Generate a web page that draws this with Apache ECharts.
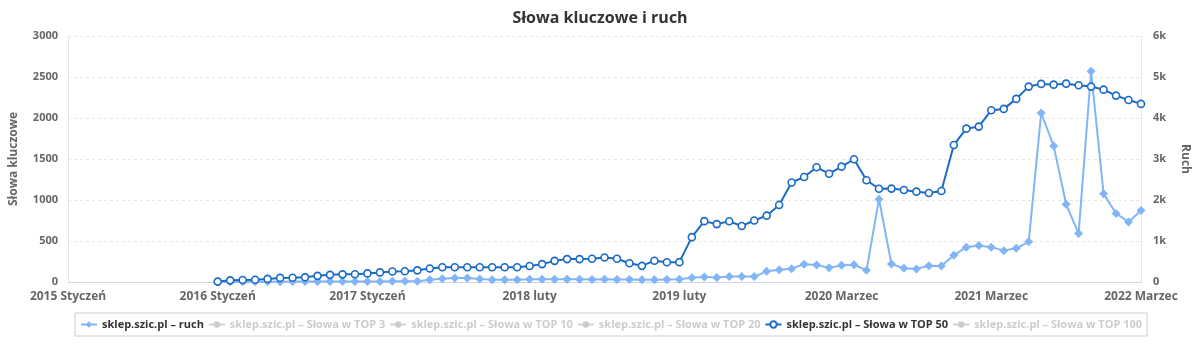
<!DOCTYPE html>
<html>
<head>
<meta charset="utf-8">
<script src="https://cdn.jsdelivr.net/npm/echarts@6/dist/echarts.min.js"></script>
<style>
html,body{margin:0;padding:0;background:#fff;}
#chart{width:1200px;height:352px;}
</style>
</head>
<body>
<div id="chart"></div>
<script>
const categories = [
  "2015 Styczeń","2015 luty","2015 Marzec","2015 Kwiecień","2015 Maj","2015 Czerwiec","2015 Lipiec","2015 Sierpień","2015 Wrzesień","2015 Październik","2015 Listopad","2015 Grudzień",
  "2016 Styczeń","2016 luty","2016 Marzec","2016 Kwiecień","2016 Maj","2016 Czerwiec","2016 Lipiec","2016 Sierpień","2016 Wrzesień","2016 Październik","2016 Listopad","2016 Grudzień",
  "2017 Styczeń","2017 luty","2017 Marzec","2017 Kwiecień","2017 Maj","2017 Czerwiec","2017 Lipiec","2017 Sierpień","2017 Wrzesień","2017 Październik","2017 Listopad","2017 Grudzień",
  "2018 Styczeń","2018 luty","2018 Marzec","2018 Kwiecień","2018 Maj","2018 Czerwiec","2018 Lipiec","2018 Sierpień","2018 Wrzesień","2018 Październik","2018 Listopad","2018 Grudzień",
  "2019 Styczeń","2019 luty","2019 Marzec","2019 Kwiecień","2019 Maj","2019 Czerwiec","2019 Lipiec","2019 Sierpień","2019 Wrzesień","2019 Październik","2019 Listopad","2019 Grudzień",
  "2020 Styczeń","2020 luty","2020 Marzec","2020 Kwiecień","2020 Maj","2020 Czerwiec","2020 Lipiec","2020 Sierpień","2020 Wrzesień","2020 Październik","2020 Listopad","2020 Grudzień",
  "2021 Styczeń","2021 luty","2021 Marzec","2021 Kwiecień","2021 Maj","2021 Czerwiec","2021 Lipiec","2021 Sierpień","2021 Wrzesień","2021 Październik","2021 Listopad","2021 Grudzień",
  "2022 Styczeń","2022 luty","2022 Marzec"
];

const tickLabels = ["2015 Styczeń","2016 Styczeń","2017 Styczeń","2018 luty","2019 luty","2020 Marzec","2021 Marzec","2022 Marzec"];

// Ruch (traffic), right axis — 2015 has no data
const ruch = [
  null,null,null,null,null,null,null,null,null,null,null,null,
  0,5,5,5,8,8,10,10,10,10,12,12,
  15,15,16,16,20,57,81,98,98,73,57,57,
  57,65,70,70,70,70,60,65,60,60,55,55,
  60,65,106,125,110,132,132,132,260,300,325,435,
  415,345,410,420,285,2020,440,335,320,395,390,650,
  850,890,850,765,822,980,4122,3320,1895,1180,5140,2155,
  1670,1465,1745
];

// Słowa w TOP 50 (keywords), left axis
const top50 = [
  null,null,null,null,null,null,null,null,null,null,null,null,
  5,20,25,27,38,50,52,57,75,87,93,95,
  105,117,128,132,142,165,179,179,179,179,179,179,
  179,195,218,258,279,279,283,299,283,228,197,260,
  240,242,547,742,706,740,683,750,809,940,1214,1280,
  1399,1321,1407,1497,1241,1137,1139,1122,1102,1086,1110,1671,
  1870,1895,2095,2111,2233,2383,2416,2407,2419,2400,2383,2346,
  2273,2220,2172
];

// hidden series (switched off in the reference legend)
const top3 = [];
const top10 = [];
const top20 = [];
const top100 = [];

const seriesNames = [
  "sklep.szic.pl – ruch",
  "sklep.szic.pl – Słowa w TOP 3",
  "sklep.szic.pl – Słowa w TOP 10",
  "sklep.szic.pl – Słowa w TOP 20",
  "sklep.szic.pl – Słowa w TOP 50",
  "sklep.szic.pl – Słowa w TOP 100"
];

const FONT = '"Open Sans", "DejaVu Sans", sans-serif';
const chart = echarts.init(document.getElementById('chart'), null, {renderer: 'canvas'});

function hiddenSeries(name, data) {
  return {
    name: name, type: 'line', yAxisIndex: 0, data: data,
    symbol: 'circle', symbolSize: 7, lineStyle: {width: 2, color: '#999'},
    itemStyle: {color: '#999'}
  };
}

const selected = {};
seriesNames.forEach((n, i) => { selected[n] = (i === 0 || i === 4); });

chart.setOption({
  animation: false,
  backgroundColor: '#fff',
  title: {
    text: 'Słowa kluczowe i ruch',
    left: 'center', top: 5,
    textStyle: {fontFamily: FONT, fontSize: 16, fontWeight: 'bold', color: '#333'}
  },
  grid: {left: 67, right: 59, top: 36, bottom: 70, containLabel: false},
  legend: {
    left: 75, top: 313,
    padding: [6, 5, 6, 5],
    borderColor: '#cccccc', borderWidth: 1, borderRadius: 0,
    itemGap: 4, itemWidth: 16, itemHeight: 8,
    inactiveColor: '#cccccc',
    selected: selected,
    textStyle: {fontFamily: FONT, fontSize: 11, fontWeight: 'bold', color: '#333'},
    data: seriesNames
  },
  xAxis: {
    type: 'category',
    data: categories,
    boundaryGap: false,
    axisLine: {lineStyle: {color: '#ccd6eb'}},
    axisTick: {show: false},
    axisLabel: {
      interval: (idx, value) => tickLabels.includes(value),
      margin: 9,
      fontFamily: FONT, fontSize: 12, fontWeight: 'bold', color: '#666',
      showMinLabel: true, showMaxLabel: true
    },
    splitLine: {show: false}
  },
  yAxis: [
    {
      type: 'value', min: 0, max: 3000, interval: 500,
      name: 'Słowa kluczowe', nameLocation: 'middle', nameGap: 48, nameRotate: 90,
      nameTextStyle: {fontFamily: FONT, fontSize: 12, fontWeight: 'bold', color: '#666'},
      axisLine: {show: true, lineStyle: {color: '#e6e6e6'}},
      axisTick: {show: false},
      axisLabel: {
        margin: 10, fontFamily: FONT, fontSize: 11, fontWeight: 'bold', color: '#666',
        formatter: v => String(v)
      },
      splitLine: {lineStyle: {color: '#e6e6e6', type: [3, 3]}}
    },
    {
      type: 'value', min: 0, max: 6000, interval: 1000,
      name: 'Ruch', nameLocation: 'middle', nameGap: 38, nameRotate: -90,
      nameTextStyle: {fontFamily: FONT, fontSize: 12, fontWeight: 'bold', color: '#666'},
      axisLine: {show: true, lineStyle: {color: '#e6e6e6'}},
      axisTick: {show: false},
      axisLabel: {
        margin: 12, fontFamily: FONT, fontSize: 11, fontWeight: 'bold', color: '#666',
        formatter: v => v === 0 ? '0' : (v / 1000) + 'k'
      },
      splitLine: {show: false}
    }
  ],
  series: [
    {
      name: seriesNames[0], type: 'line', yAxisIndex: 1, data: ruch,
      symbol: 'diamond', symbolSize: 9, showAllSymbol: true,
      lineStyle: {width: 2, color: '#82b5f5'},
      itemStyle: {color: '#82b5f5'},
      z: 2
    },
    hiddenSeries(seriesNames[1], top3),
    hiddenSeries(seriesNames[2], top10),
    hiddenSeries(seriesNames[3], top20),
    {
      name: seriesNames[4], type: 'line', yAxisIndex: 0, data: top50,
      symbol: 'circle', symbolSize: 7, showAllSymbol: true,
      lineStyle: {width: 2, color: '#1a6bc6'},
      itemStyle: {color: '#ffffff', borderColor: '#1a6bc6', borderWidth: 1.6},
      z: 3
    },
    hiddenSeries(seriesNames[5], top100)
  ]
});
</script>
</body>
</html>
